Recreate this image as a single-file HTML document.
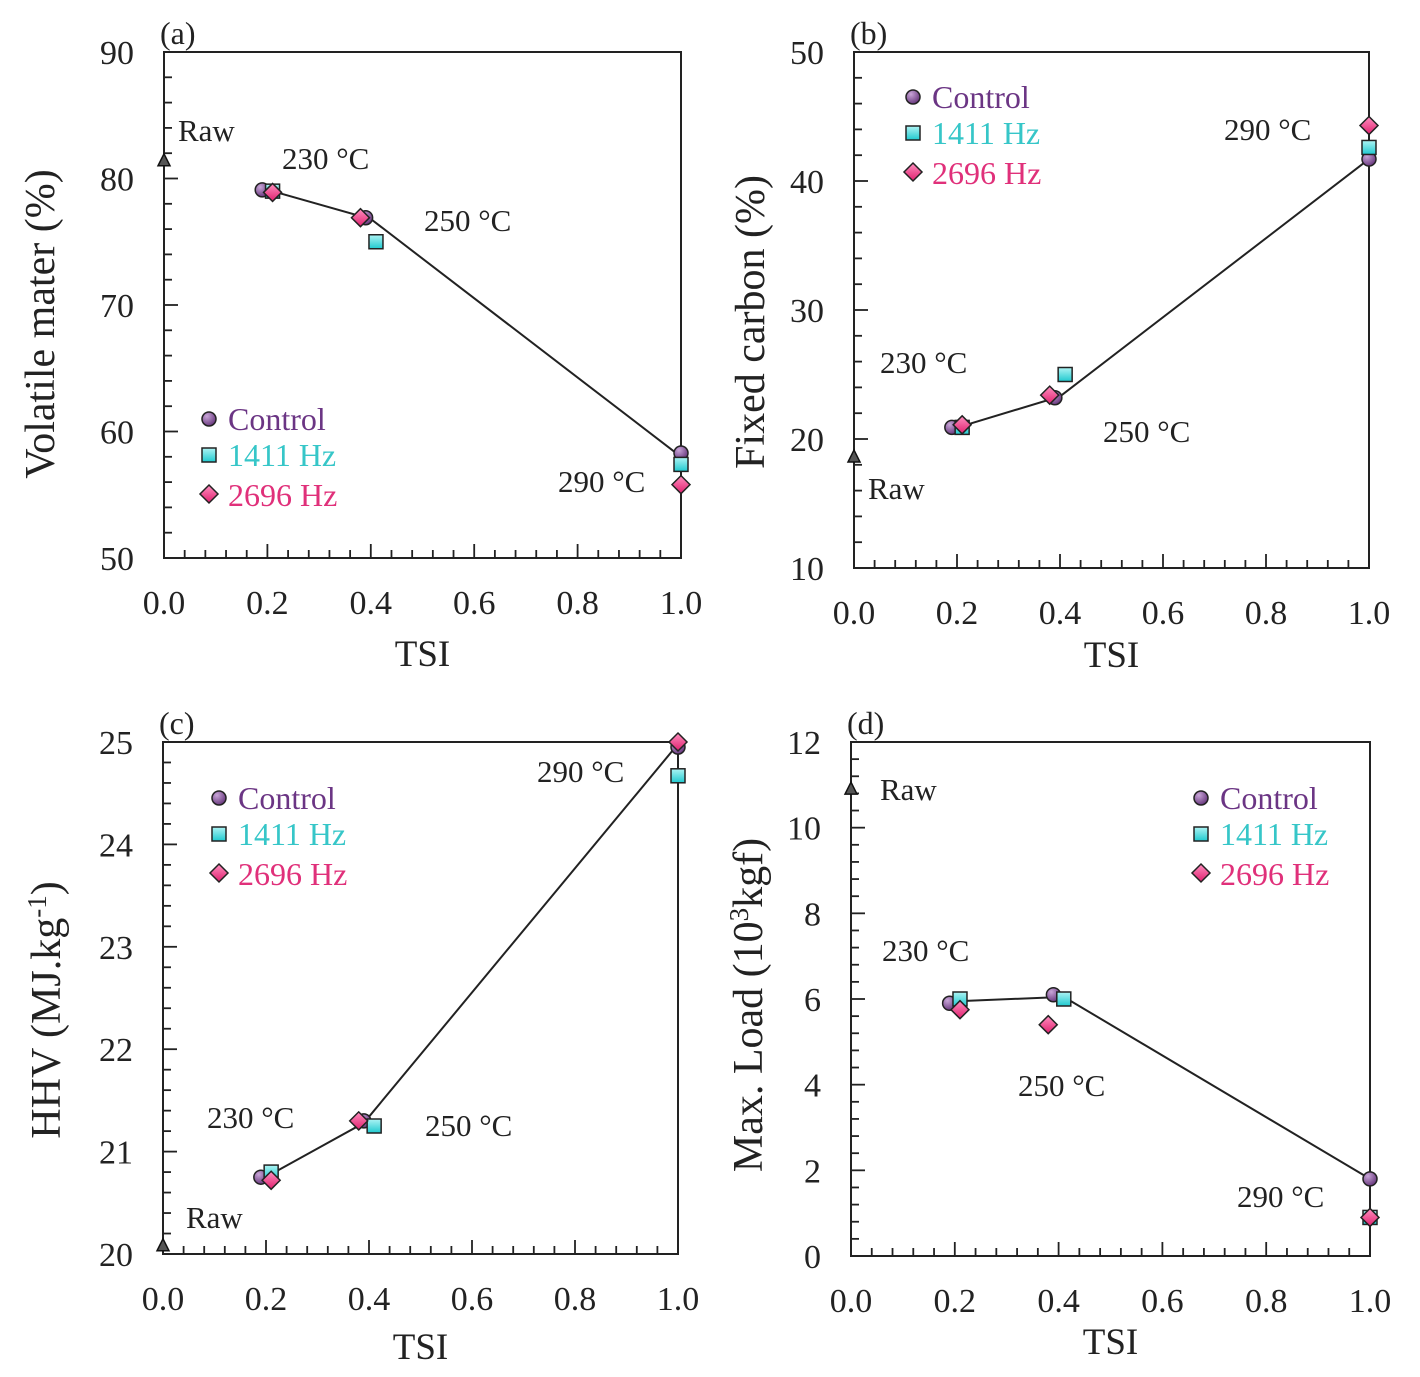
<!DOCTYPE html>
<html><head><meta charset="utf-8">
<style>
html,body{margin:0;padding:0;background:#fff;}
svg{display:block;font-family:"Liberation Serif",serif;}
</style></head>
<body>
<svg id="fig" width="1420" height="1377" viewBox="0 0 1420 1377" xmlns="http://www.w3.org/2000/svg">
<defs>
<radialGradient id="gC" cx="0.35" cy="0.3" r="0.8"><stop offset="0" stop-color="#c9a6d8"/><stop offset="1" stop-color="#5d2b73"/></radialGradient>
<linearGradient id="gS" x1="0" y1="0" x2="0" y2="1"><stop offset="0" stop-color="#aef4f4"/><stop offset="1" stop-color="#1fc9cf"/></linearGradient>
<linearGradient id="gD" x1="0" y1="0" x2="0" y2="1"><stop offset="0" stop-color="#ff8fc0"/><stop offset="1" stop-color="#e0206e"/></linearGradient>
</defs>
</svg>
<script>
// ---- data ----
const tsiControl = [0.19, 0.39, 1.0];
const tsi1411 = [0.21, 0.41, 1.0];
const tsi2696 = [0.21, 0.38, 1.0];
const rawTsi = 0;

const vmControl = [79.1, 76.9, 58.3];
const vm1411 = [79.0, 75.0, 57.4];
const vm2696 = [78.9, 76.9, 55.8];
const vmRaw = 81.4;
const vmLineX = [0.21, 0.40, 1.0];
const vmLineY = [79.0, 76.8, 58.0];

const fcControl = [20.9, 23.2, 41.7];
const fc1411 = [20.9, 25.0, 42.6];
const fc2696 = [21.1, 23.4, 44.3];
const fcRaw = 18.6;
const fcLineX = [0.21, 0.40, 1.0];
const fcLineY = [21.0, 23.3, 41.7];

const hhvControl = [20.75, 21.30, 24.95];
const hhv1411 = [20.80, 21.25, 24.67];
const hhv2696 = [20.72, 21.30, 25.00];
const hhvRaw = 20.08;
const hhvLineX = [0.21, 0.39, 1.0];
const hhvLineY = [20.78, 21.28, 24.98];

const mlControl = [5.9, 6.1, 1.8];
const ml1411 = [6.0, 6.0, 0.9];
const ml2696 = [5.75, 5.4, 0.9];
const mlRaw = 10.9;
const mlLineX = [0.21, 0.41, 1.0];
const mlLineY = [5.95, 6.05, 1.8];

const xTicks = ["0.0","0.2","0.4","0.6","0.8","1.0"];
const vmTicks = ["50","60","70","80","90"];
const fcTicks = ["10","20","30","40","50"];
const hhvTicks = ["20","21","22","23","24","25"];
const mlTicks = ["0","2","4","6","8","10","12"];

const NS = "http://www.w3.org/2000/svg";
const svg = document.getElementById('fig');
function mk(tag, attrs, parent, text){
  const e = document.createElementNS(NS, tag);
  for (const k in attrs) e.setAttribute(k, attrs[k]);
  if (text !== undefined) e.textContent = text;
  (parent || svg).appendChild(e);
  return e;
}

function panel(cfg){
  const g = mk('g', {});
  
  
  const L=cfg.L,R=cfg.R,T=cfg.T,B=cfg.B;
  const ymin=+cfg.yTicks[0], ymax=+cfg.yTicks[cfg.yTicks.length-1];
  const sx = v => L + v*(R-L);
  const sy = v => B - (v-ymin)/(ymax-ymin)*(B-T);
  const frame = mk('rect', {x:L,y:T,width:R-L,height:B-T,fill:'none',stroke:'#222','stroke-width':2}, g);
  
  
  for (let i=0;i<=25;i++){
    const x = sx(i/25), len = (i%5===0)?14:8;
    mk('line',{x1:x,y1:B,x2:x,y2:B-len,stroke:'#222','stroke-width':1.8},g);
  }
  xTicks.forEach((t,i)=>{
    const lab = mk('text',{x:sx(i/5),y:B+56,'font-size':34,'text-anchor':'middle',fill:'#222'},g,t);
    
    
  });
  const nMaj = cfg.yTicks.length-1;
  for (let i=0;i<=nMaj*5;i++){
    const y = B - i/(nMaj*5)*(B-T), len=(i%5===0)?14:8;
    mk('line',{x1:L,y1:y,x2:L+len,y2:y,stroke:'#222','stroke-width':1.8},g);
  }
  cfg.yTicks.forEach(t=>{
    const lab = mk('text',{x:L-30,y:sy(+t)+12,'font-size':34,'text-anchor':'end',fill:'#222'},g,t);
    
    
  });
  const xt = mk('text',{x:(L+R)/2,y:B+cfg.xto,'font-size':37,'text-anchor':'middle',fill:'#222'},g,'TSI');
  
  
  const yt = mk('text',{x:0,y:0,'font-size':42,'text-anchor':'middle',fill:'#222',transform:`translate(${cfg.ytx},${cfg.ytc}) rotate(-90)`},g);
  
  
  yt.innerHTML = cfg.ytitle;
  const pl = mk('text',{x:L-4,y:T-8,'font-size':32,fill:'#222'},g,cfg.letter);
  
  
  const pts = cfg.lx.map((v,i)=>sx(v)+','+sy(cfg.ly[i])).join(' ');
  const tl = mk('polyline',{points:pts,fill:'none',stroke:'#222','stroke-width':2},g);
  
  
  const rx=sx(rawTsi), ry=sy(cfg.raw);
  const tri = mk('polygon',{points:`${rx-6},${ry+5} ${rx+6},${ry+5} ${rx},${ry-7}`,fill:'#555',stroke:'#111','stroke-width':1.5},g);
  
  
  cfg.c.forEach((v,i)=>{
    const m = mk('circle',{cx:sx(tsiControl[i]),cy:sy(v),r:7,fill:'url(#gC)',stroke:'#222','stroke-width':1.5},g);
    
    
  });
  cfg.s.forEach((v,i)=>{
    const x=sx(tsi1411[i]), y=sy(v);
    const m = mk('rect',{x:x-7,y:y-7,width:14,height:14,fill:'url(#gS)',stroke:'#222','stroke-width':1.5},g);
    
    
  });
  cfg.d.forEach((v,i)=>{
    const x=sx(tsi2696[i]), y=sy(v);
    const m = mk('polygon',{points:`${x},${y-9} ${x+9},${y} ${x},${y+9} ${x-9},${y}`,fill:'url(#gD)',stroke:'#222','stroke-width':1.5},g);
    
    
  });
  cfg.ann.forEach(a=>{
    const t = mk('text',{x:a[0],y:a[1],'font-size':31,fill:'#222'},g,a[2]);
    
    
  });
  const lg = mk('g',{},g);
  
  
  const lx=cfg.leg[0], ly=cfg.leg[1];
  mk('circle',{cx:lx,cy:ly,r:7,fill:'url(#gC)',stroke:'#222','stroke-width':1.5},lg);
  mk('text',{x:lx+19,y:ly+11,'font-size':32,fill:'#6b3584'},lg,'Control');
  mk('rect',{x:lx-7,y:ly+29,width:14,height:14,fill:'url(#gS)',stroke:'#222','stroke-width':1.5},lg);
  mk('text',{x:lx+19,y:ly+47,'font-size':32,fill:'#36c6c8'},lg,'1411 Hz');
  mk('polygon',{points:`${lx},${ly+66} ${lx+9},${ly+75} ${lx},${ly+84} ${lx-9},${ly+75}`,fill:'url(#gD)',stroke:'#222','stroke-width':1.5},lg);
  mk('text',{x:lx+19,y:ly+87,'font-size':32,fill:'#e0307a'},lg,'2696 Hz');
}

panel({name:'panel-a-volatile-matter',letter:'(a)',L:164,R:681,T:52,B:558,yTicks:vmTicks,ytx:54,ytc:324,xto:108,
  ytitle:'Volatile mater (%)',c:vmControl,s:vm1411,d:vm2696,raw:vmRaw,lx:vmLineX,ly:vmLineY,
  ann:[[178,141,'Raw'],[282,169,'230 °C'],[424,231,'250 °C'],[558,492,'290 °C']],leg:[209,419]});
panel({name:'panel-b-fixed-carbon',letter:'(b)',L:854,R:1369,T:52,B:568,yTicks:fcTicks,ytx:764,ytc:322,xto:99,
  ytitle:'Fixed carbon (%)',c:fcControl,s:fc1411,d:fc2696,raw:fcRaw,lx:fcLineX,ly:fcLineY,
  ann:[[868,499,'Raw'],[880,373,'230 °C'],[1103,442,'250 °C'],[1224,140,'290 °C']],leg:[913,97]});
panel({name:'panel-c-hhv',letter:'(c)',L:163,R:678,T:742,B:1254,yTicks:hhvTicks,ytx:60,ytc:1010,xto:105,
  ytitle:'HHV (MJ.kg<tspan dy="-14" font-size="27">-1</tspan><tspan dy="14">)</tspan>',c:hhvControl,s:hhv1411,d:hhv2696,raw:hhvRaw,lx:hhvLineX,ly:hhvLineY,
  ann:[[186,1228,'Raw'],[207,1128,'230 °C'],[425,1136,'250 °C'],[537,782,'290 °C']],leg:[219,798]});
panel({name:'panel-d-max-load',letter:'(d)',L:851,R:1370,T:742,B:1256,yTicks:mlTicks,ytx:762,ytc:1005,xto:98,
  ytitle:'Max. Load (10<tspan dy="-14" font-size="27">3</tspan><tspan dy="14">kgf)</tspan>',c:mlControl,s:ml1411,d:ml2696,raw:mlRaw,lx:mlLineX,ly:mlLineY,
  ann:[[880,800,'Raw'],[882,961,'230 °C'],[1018,1096,'250 °C'],[1237,1207,'290 °C']],leg:[1201,798]});
</script>
</body></html>
